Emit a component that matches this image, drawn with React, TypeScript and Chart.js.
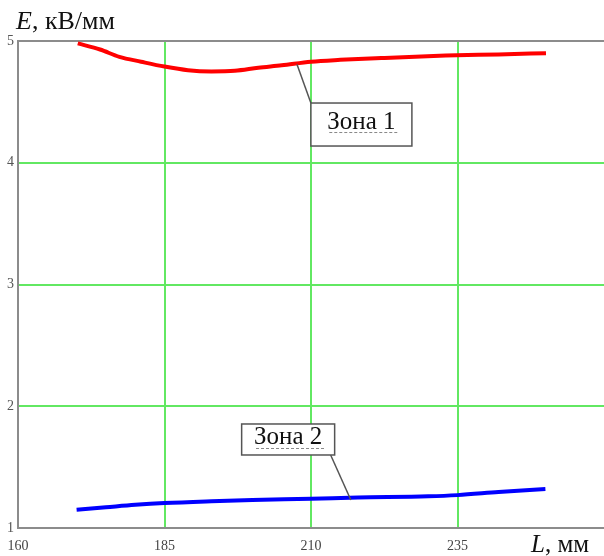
import React, { useEffect, useRef } from "react";
import { Chart, registerables } from "chart.js";

Chart.register(...registerables);

// Zone 1 (red) and Zone 2 (blue): L (mm) vs E (kV/mm)
const zone1L = [170.2, 174, 177.3, 181, 185, 189, 193, 197, 201, 205, 210, 215, 222, 233, 242, 250.1];
const zone1E = [4.98, 4.93, 4.87, 4.83, 4.79, 4.76, 4.75, 4.755, 4.78, 4.80, 4.83, 4.845, 4.86, 4.88, 4.89, 4.90];
const zone2L = [170, 175, 180, 185, 193, 200, 210, 218, 230, 235, 242, 250];
const zone2E = [1.15, 1.17, 1.19, 1.205, 1.22, 1.23, 1.24, 1.25, 1.26, 1.27, 1.295, 1.32];

const xTicks = [160, 185, 210, 235, 260];
const yTicks = [1, 2, 3, 4, 5];

const yTitle = ["E", ", кВ/мм"];
const xTitle = ["L", ", мм"];

// annotation labels: text, anchor point on curve (data), box center (data)
const labelTexts = ["Зона 1", "Зона 2"];
const labelAnchorL = [207.6, 216.8];
const labelAnchorE = [4.81, 1.23];
const labelBoxL = [218.6, 206.1];
const labelBoxE = [4.314, 1.727];

const SERIF = "'Liberation Serif', 'Times New Roman', serif";

export default function App() {
  const ref = useRef<HTMLCanvasElement | null>(null);

  useEffect(() => {
    const canvas = ref.current;
    if (!canvas) return;

    const annotate = {
      id: "annotate",
      afterDatasetsDraw(chart: any) {
        const ctx = chart.ctx;
        const xs = chart.scales.x;
        const ys = chart.scales.y;
        const boxW = [101, 93];
        const boxH = [43, 31];
        const textDy = [4, 5];
        ctx.save();
        for (let i = 0; i < labelTexts.length; i++) {
          const ax = xs.getPixelForValue(labelAnchorL[i]);
          const ay = ys.getPixelForValue(labelAnchorE[i]);
          const cx = xs.getPixelForValue(labelBoxL[i]);
          const cy = ys.getPixelForValue(labelBoxE[i]);
          const left = cx - boxW[i] / 2;
          const top = cy - boxH[i] / 2;
          // leader line
          ctx.strokeStyle = "#555";
          ctx.lineWidth = 1.5;
          ctx.setLineDash([]);
          ctx.beginPath();
          if (i === 0) {
            ctx.moveTo(ax, ay);
            ctx.lineTo(left, top);
          } else {
            ctx.moveTo(ax, ay);
            ctx.lineTo(left + boxW[i] - 4, top + boxH[i]);
          }
          ctx.stroke();
          // box
          ctx.fillStyle = "#fff";
          ctx.fillRect(left, top, boxW[i], boxH[i]);
          ctx.strokeStyle = "#555";
          ctx.lineWidth = 1.5;
          ctx.strokeRect(left, top, boxW[i], boxH[i]);
          // text
          ctx.font = `25px ${SERIF}`;
          ctx.fillStyle = "#111";
          ctx.textAlign = "center";
          ctx.textBaseline = "alphabetic";
          const w = ctx.measureText(labelTexts[i]).width;
          const base = cy + textDy[i];
          ctx.fillText(labelTexts[i], cx, base);
          // dashed underline (spell-check)
          ctx.strokeStyle = "#888";
          ctx.lineWidth = 1;
          ctx.setLineDash([3, 2]);
          ctx.beginPath();
          ctx.moveTo(cx - w / 2 + 2, base + 4);
          ctx.lineTo(cx + w / 2 + 2, base + 4);
          ctx.stroke();
          ctx.setLineDash([]);
        }
        // axis titles
        ctx.textAlign = "left";
        ctx.textBaseline = "alphabetic";
        ctx.fillStyle = "#111";
        let x0 = 16;
        ctx.font = `italic 26px ${SERIF}`;
        ctx.fillText(yTitle[0], x0, 29);
        x0 += ctx.measureText(yTitle[0]).width;
        ctx.font = `26px ${SERIF}`;
        ctx.fillText(yTitle[1], x0, 29);

        x0 = 531;
        ctx.font = `italic 25px ${SERIF}`;
        ctx.fillText(xTitle[0], x0, 552);
        x0 += ctx.measureText(xTitle[0]).width;
        ctx.font = `25px ${SERIF}`;
        ctx.fillText(xTitle[1], x0, 552);
        ctx.restore();
      },
    };

    const green = "#62e862";
    const gray = "#8c8c8c";

    const chart = new Chart(canvas, {
      type: "line",
      data: {
        datasets: [
          {
            label: "Зона 1",
            data: zone1L.map((l, i) => ({ x: l, y: zone1E[i] })),
            borderColor: "#ff0000",
            borderWidth: 4,
            pointRadius: 0,
            cubicInterpolationMode: "monotone",
            fill: false,
          },
          {
            label: "Зона 2",
            data: zone2L.map((l, i) => ({ x: l, y: zone2E[i] })),
            borderColor: "#0000ff",
            borderWidth: 4,
            pointRadius: 0,
            cubicInterpolationMode: "monotone",
            fill: false,
          },
        ],
      },
      options: {
        responsive: false,
        animation: false,
        layout: { padding: { top: 41, right: 0, left: 0, bottom: 0 } },
        plugins: {
          legend: { display: false },
          tooltip: { enabled: false },
        },
        scales: {
          x: {
            type: "linear",
            min: xTicks[0],
            max: xTicks[xTicks.length - 1],
            afterBuildTicks: (scale: any) => {
              scale.ticks = xTicks.map((v) => ({ value: v }));
            },
            afterFit: (scale: any) => {
              scale.height = 28;
              scale.paddingLeft = 0;
              scale.paddingRight = 0;
            },
            ticks: {
              autoSkip: false,
              maxRotation: 0,
              padding: 10,
              color: "#444",
              font: { family: SERIF, size: 14 },
              callback: (v: any) => (v === xTicks[xTicks.length - 1] ? "" : String(v)),
            },
            grid: {
              drawTicks: false,
              lineWidth: 2,
              color: (c: any) =>
                c.tick && (c.tick.value === xTicks[0] || c.tick.value === xTicks[xTicks.length - 1])
                  ? "rgba(0,0,0,0)"
                  : green,
            },
            border: { display: true, color: gray, width: 2 },
          },
          y: {
            type: "linear",
            min: yTicks[0],
            max: yTicks[yTicks.length - 1],
            afterBuildTicks: (scale: any) => {
              scale.ticks = yTicks.map((v) => ({ value: v }));
            },
            afterFit: (scale: any) => {
              scale.width = 18;
              scale.paddingTop = 0;
              scale.paddingBottom = 0;
            },
            ticks: {
              autoSkip: false,
              padding: 4,
              color: "#555",
              font: { family: SERIF, size: 14 },
              callback: (v: any) => String(v),
            },
            grid: {
              drawTicks: false,
              lineWidth: 2,
              color: (c: any) =>
                c.tick && c.tick.value === yTicks[0]
                  ? "rgba(0,0,0,0)"
                  : c.tick && c.tick.value === yTicks[yTicks.length - 1]
                  ? gray
                  : green,
            },
            border: { display: true, color: gray, width: 2 },
          },
        },
      } as any,
      plugins: [annotate],
    });

    return () => chart.destroy();
  }, []);

  return (
    <div style={{ position: "fixed", left: 0, top: 0, width: 604, height: 556, background: "#fff" }}>
      <canvas ref={ref} width={604} height={556} style={{ display: "block" }} />
    </div>
  );
}
